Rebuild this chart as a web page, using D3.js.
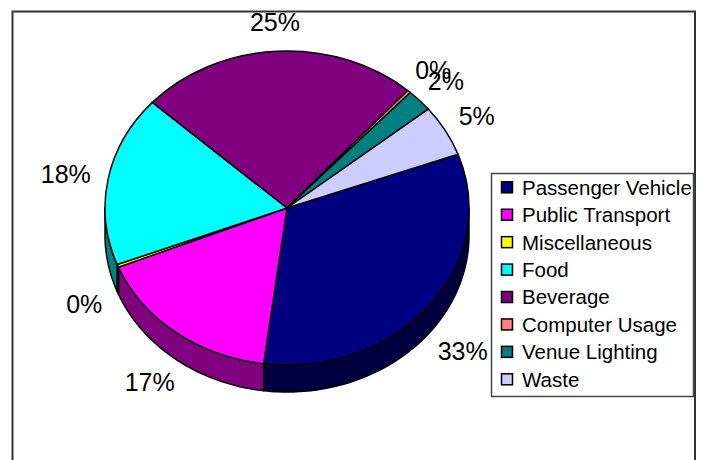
<!DOCTYPE html>
<html>
<head>
<meta charset="utf-8">
<script src="https://cdn.jsdelivr.net/npm/d3@7"></script>
<style>
  body { margin: 0; background: #fff; }
  text { font-family: "Liberation Sans", Arial, sans-serif; fill: #000; }
</style>
</head>
<body>
<div class="visHolder"></div>
<script>
const categories = [
  "Passenger Vehicle",
  "Public Transport",
  "Miscellaneous",
  "Food",
  "Beverage",
  "Computer Usage",
  "Venue Lighting",
  "Waste",
];
const values = [32.6, 16.8, 0.3, 17.6, 24.8, 0.3, 2.3, 5.3];
const colors = [
  "#000080", "#ff00ff", "#ffff00", "#00ffff",
  "#800080", "#ff8080", "#008080", "#ccccff",
];

const width = 705,
  height = 460;

// top face of the pie is an ellipse, the side is pushed down by depth
const cx = 287,
  cy = 208,
  rx = 182,
  ry = 157,
  depth = 27;

const svg = d3
  .select(".visHolder")
  .append("svg")
  .attr("width", width)
  .attr("height", height);

svg
  .append("rect")
  .attr("x", 12.5)
  .attr("y", 11.5)
  .attr("width", 682.5)
  .attr("height", 480)
  .attr("fill", "none")
  .attr("stroke", "#333")
  .attr("stroke-width", 2);

const deg = Math.PI / 180;
const pie = d3
  .pie()
  .sort(null)
  .startAngle(70 * deg)
  .endAngle(430 * deg);
const arcs = pie(values);
const total = d3.sum(values);

const pt = (a, dy) => [cx + rx * Math.sin(a), cy - ry * Math.cos(a) + dy];

const sidePath = (a0, a1) => {
  const p = d3.path();
  const steps = Math.max(2, Math.ceil((a1 - a0) / 0.02));
  for (let i = 0; i <= steps; i++) {
    const [x, y] = pt(a0 + ((a1 - a0) * i) / steps, 0);
    if (i === 0) p.moveTo(x, y);
    else p.lineTo(x, y);
  }
  for (let i = steps; i >= 0; i--) {
    const [x, y] = pt(a0 + ((a1 - a0) * i) / steps, depth);
    p.lineTo(x, y);
  }
  p.closePath();
  return p.toString();
};

const sideColor = (c) => {
  const k = d3.rgb(c);
  return d3.rgb(k.r * 0.5, k.g * 0.5, k.b * 0.5).toString();
};

// visible side: front half of the ellipse
const sides = arcs
  .map((d, i) => ({
    i: i,
    b0: Math.max(d.startAngle, 90 * deg),
    b1: Math.min(d.endAngle, 270 * deg),
  }))
  .filter((d) => d.b1 > d.b0);

svg
  .append("g")
  .selectAll("path")
  .data(sides)
  .enter()
  .append("path")
  .attr("d", (d) => sidePath(d.b0, d.b1))
  .attr("fill", (d) => sideColor(colors[d.i]))
  .attr("stroke", "#000")
  .attr("stroke-width", 1.5)
  .attr("stroke-linejoin", "round");

const arc = d3.arc().innerRadius(0).outerRadius(rx);

svg
  .append("g")
  .attr("transform", "translate(" + cx + "," + cy + ") scale(1," + ry / rx + ")")
  .selectAll("path")
  .data(arcs)
  .enter()
  .append("path")
  .attr("d", arc)
  .attr("fill", (d, i) => colors[i])
  .attr("stroke", "#000")
  .attr("stroke-width", 1.5)
  .attr("vector-effect", "non-scaling-stroke")
  .attr("stroke-linejoin", "round");

// percent labels: box pushed outward from a point just beyond the rim
const pct = d3.format(".0%");
const gap = 18;

const labels = svg
  .append("g")
  .selectAll("text")
  .data(arcs)
  .enter()
  .append("text")
  .attr("text-anchor", "middle")
  .attr("dy", "0.36em")
  .style("font-size", "25px")
  .text((d) => pct(d.value / total));

labels.each(function (d) {
  const a = (d.startAngle + d.endAngle) / 2;
  const s = Math.sin(a),
    c = -Math.cos(a);
  const hw = this.getComputedTextLength() / 2,
    hh = 11;
  const x = cx + (rx + gap) * s + hw * s;
  const y = cy + (ry + gap) * c + hh * c + (c > 0 ? depth : 0);
  d3.select(this).attr("x", x).attr("y", y);
});

// legend
const legend = svg.append("g").attr("id", "legend");

legend
  .append("rect")
  .attr("x", 491.5)
  .attr("y", 173.5)
  .attr("width", 202)
  .attr("height", 223)
  .attr("fill", "#fff")
  .attr("stroke", "#444")
  .attr("stroke-width", 1.5);

const rowY = d3
  .scalePoint()
  .domain(categories)
  .range([187.3, 379.3]);

const entries = legend
  .selectAll(".legendEntries")
  .data(categories)
  .enter()
  .append("g")
  .attr("class", "legendEntries");

entries
  .append("rect")
  .attr("x", 501.5)
  .attr("y", (d) => rowY(d) - 5.5)
  .attr("width", 11)
  .attr("height", 11)
  .attr("fill", (d, i) => colors[i])
  .attr("stroke", "#000")
  .attr("stroke-width", 1.5);

entries
  .append("text")
  .attr("x", 522)
  .attr("y", (d) => rowY(d))
  .attr("dy", "0.36em")
  .style("font-size", "20.5px")
  .text((d) => d);
</script>
</body>
</html>
